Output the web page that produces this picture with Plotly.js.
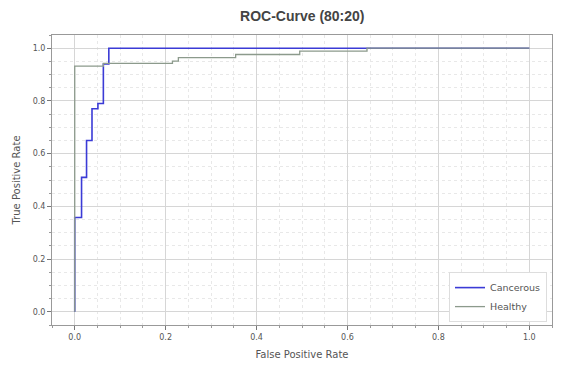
<!DOCTYPE html>
<html>
<head>
<meta charset="utf-8">
<script src="https://cdn.plot.ly/plotly-3.0.1.min.js"></script>
<style>
  html, body { margin: 0; padding: 0; background: #fff; }
  #chart { width: 565px; height: 370px; }
</style>
</head>
<body>
<div id="chart"></div>
<script>
// ROC points (fpr, tpr)
const cancerFpr = [0, 0, 0.015, 0.026, 0.038, 0.051, 0.063, 0.075, 1.0]
const cancerTpr = [0, 0.358, 0.51, 0.65, 0.77, 0.79, 0.94, 1.0, 1.0]

const healthyFpr = [0, 0, 0.063, 0.215, 0.228, 0.354, 0.495, 0.643, 1.0]
const healthyTpr = [0, 0.932, 0.942, 0.951, 0.964, 0.976, 0.989, 1.0, 1.0]

const seriesNames = ['Cancerous', 'Healthy']
const tickVals = [0, 0.2, 0.4, 0.6, 0.8, 1.0]
const tickText = ['0.0', '0.2', '0.4', '0.6', '0.8', '1.0']

const textColor = '#555'
const tickFont = { family: 'DejaVu Sans, sans-serif', size: 8, color: textColor }

const cancerous = {
  x: cancerFpr,
  y: cancerTpr,
  mode: 'lines',
  type: 'scatter',
  name: seriesNames[0],
  line: { color: '#3b3bd6', width: 1.6, shape: 'hv' }
}

const healthy = {
  x: healthyFpr,
  y: healthyTpr,
  mode: 'lines',
  type: 'scatter',
  name: seriesNames[1],
  line: { color: '#8c9a8c', width: 1.3, shape: 'hv' }
}

function axis(title) {
  return {
    range: [-0.05, 1.05],
    tickvals: tickVals,
    ticktext: tickText,
    tickfont: tickFont,
    ticks: 'outside',
    ticklen: 4,
    tickcolor: '#777',
    showline: true,
    mirror: true,
    linecolor: '#999',
    linewidth: 1,
    zeroline: false,
    gridcolor: '#d6d6d6',
    gridwidth: 1,
    minor: {
      dtick: 0.05,
      showgrid: true,
      gridcolor: '#e8e8e8',
      griddash: 'dot',
      ticks: 'outside',
      ticklen: 2,
      tickcolor: '#999'
    },
    title: {
      text: title,
      font: { family: 'DejaVu Sans, sans-serif', size: 10, color: textColor },
      standoff: 10
    }
  }
}

const layout = {
  width: 565,
  height: 370,
  margin: { l: 52, r: 13, t: 35, b: 45 },
  paper_bgcolor: '#fff',
  plot_bgcolor: '#fff',
  title: {
    text: '<b>ROC-Curve (80:20)</b>',
    font: { family: 'Liberation Sans, Arial, sans-serif', size: 14, color: '#444' },
    x: 0.535,
    xanchor: 'center',
    y: 0.97
  },
  xaxis: axis('False Positive Rate'),
  yaxis: axis('True Positive Rate'),
  showlegend: true,
  legend: {
    x: 0.99,
    y: 0.01,
    xanchor: 'right',
    yanchor: 'bottom',
    bgcolor: '#fff',
    bordercolor: '#ddd',
    borderwidth: 1,
    font: { family: 'DejaVu Sans, sans-serif', size: 9.5, color: textColor },
    itemwidth: 30,
    tracegroupgap: 0
  }
}

Plotly.newPlot('chart', [cancerous, healthy], layout, { displayModeBar: false, staticPlot: true })
</script>
</body>
</html>
